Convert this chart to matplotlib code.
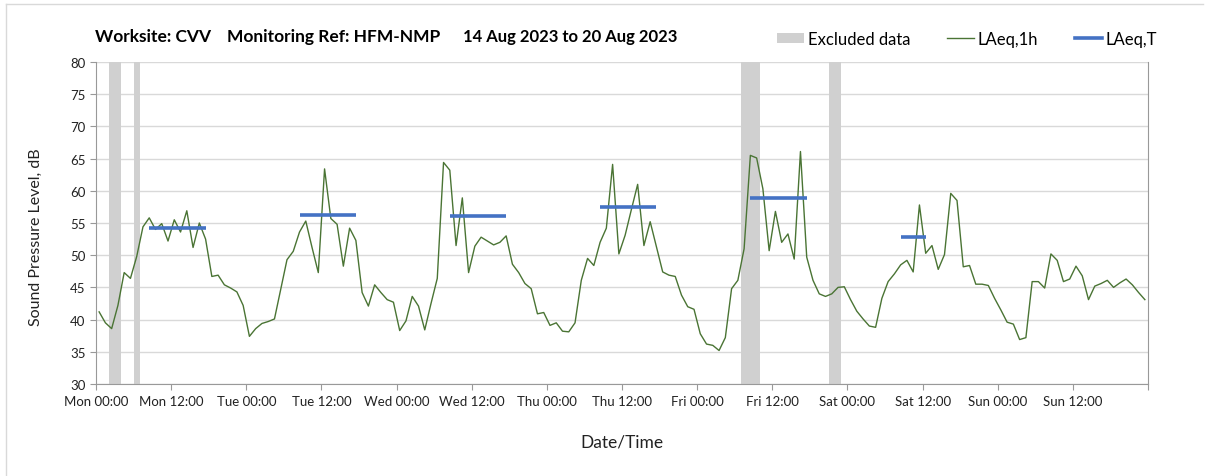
import numpy as np
import matplotlib
matplotlib.use("Agg")
import matplotlib.pyplot as plt
from matplotlib.lines import Line2D
from matplotlib.patches import Patch

plt.rcParams['font.family'] = ['Lato', 'DejaVu Sans']

# hourly LAeq,1h values, Mon 00:00 -> Sun 23:00 (168 hours)
laeq_1h = [
    41.2, 39.5, 38.6, 42.2, 47.3, 46.4, 49.8, 54.4, 55.8, 54.0, 54.9, 52.2,
    55.5, 53.6, 56.9, 51.2, 55.0, 52.5, 46.7, 46.9, 45.4, 44.9, 44.3, 42.2,
    37.4, 38.6, 39.4, 39.7, 40.1, 44.7, 49.3, 50.6, 53.6, 55.3, 51.2, 47.3,
    63.4, 55.7, 54.8, 48.3, 54.2, 52.3, 44.2, 42.1, 45.4, 44.2, 43.1, 42.7,
    38.3, 39.8, 43.6, 42.1, 38.4, 42.5, 46.4, 64.4, 63.2, 51.5, 58.9, 47.3,
    51.4, 52.8, 52.2, 51.6, 52.0, 53.0, 48.6, 47.3, 45.6, 44.8, 40.9, 41.1,
    39.1, 39.5, 38.2, 38.1, 39.5, 46.1, 49.5, 48.4, 52.0, 54.2, 64.1, 50.2,
    53.1, 57.1, 61.0, 51.5, 55.2, 51.3, 47.4, 46.9, 46.7, 43.8, 42.0, 41.6,
    37.8, 36.2, 36.0, 35.2, 37.2, 44.8, 46.1, 51.0, 65.5, 65.1, 60.3, 50.7,
    56.8, 52.0, 53.3, 49.4, 66.1, 49.7, 46.1, 44.0, 43.6, 44.0, 45.0, 45.1,
    43.1, 41.3, 40.1, 39.0, 38.8, 43.3, 45.9, 47.1, 48.5, 49.2, 47.4, 57.8,
    50.3, 51.5, 47.8, 50.1, 59.6, 58.5, 48.2, 48.4, 45.5, 45.5, 45.3, 43.3,
    41.5, 39.6, 39.3, 36.9, 37.2, 45.9, 45.9, 44.9, 50.2, 49.2, 45.9, 46.3,
    48.3, 46.8, 43.1, 45.2, 45.6, 46.1, 45.0, 45.7, 46.3, 45.4, 44.2, 43.1,
]

# LAeq,T daytime periods (first hour, last hour, level)
laeqt_first = [8, 32, 56, 80, 104, 128]
laeqt_last = [17, 41, 65, 89, 113, 132]
laeqt_value = [54.3, 56.25, 56.1, 57.5, 58.9, 52.8]

# excluded data periods (hours from Mon 00:00)
excl_start = [2, 6, 103, 117]
excl_end = [4, 7, 106, 119]

days = ['Mon', 'Tue', 'Wed', 'Thu', 'Fri', 'Sat', 'Sun']
tick_labels = [f'{d} {t}' for d in days for t in ('00:00', '12:00')]

fig = plt.figure(figsize=(12.08, 4.77), dpi=100)
ax = fig.add_axes([96 / 1208, 1 - 385 / 477, 1052 / 1208, 322 / 477])

hours = np.arange(len(laeq_1h)) + 0.5

for s, e in zip(excl_start, excl_end):
    ax.axvspan(s, e, color='#d0d0d0', lw=0, zorder=1)

ax.plot(hours, laeq_1h, color='#4a7434', lw=1.0, zorder=3)

for s, e, v in zip(laeqt_first, laeqt_last, laeqt_value):
    ax.plot([s + 0.5, e + 0.5], [v, v], color='#4472c4', lw=2.6, zorder=4,
            solid_capstyle='butt')

ax.set_xlim(0, 168)
ax.set_ylim(30, 80)
ax.set_yticks(np.arange(30, 81, 5))
ax.set_xticks(np.arange(0, 169, 12))
ax.set_xticklabels(tick_labels + [''])
ax.set_xticks(np.arange(0, 169, 24), minor=True)

ax.grid(axis='y', color='#d9d9d9', lw=1.0, zorder=0)
ax.grid(axis='x', which='minor', color='#e3e3e3', lw=1.5, zorder=0)
ax.grid(axis='x', which='major', visible=False)
ax.tick_params(axis='x', which='minor', length=0)
ax.tick_params(axis='both', which='major', color='#999999', length=4,
               labelsize=9.5, labelcolor='#222222')
ax.tick_params(axis='x', pad=4)
for side in ['left', 'bottom', 'right']:
    ax.spines[side].set_color('#999999')
ax.spines['top'].set_visible(False)
ax.set_axisbelow(True)

ax.set_ylabel('Sound Pressure Level, dB', fontsize=11.5, color='#222222')
ax.yaxis.set_label_coords(-53 / 1052, 0.46)
ax.set_xlabel('Date/Time', fontsize=12.5, color='#222222')
ax.xaxis.set_label_coords(0.5, -50 / 322)

ty = 1 - 37 / 477
fig.text(95 / 1208, ty, 'Worksite: CVV', fontsize=12.5, fontweight='bold', va='center')
fig.text(227 / 1208, ty, 'Monitoring Ref: HFM-NMP', fontsize=12.5, fontweight='bold', va='center')
fig.text(463 / 1208, ty, '14 Aug 2023 to 20 Aug 2023', fontsize=12, fontweight='bold', va='center')

handles = [Patch(color='#d0d0d0', lw=0),
           Line2D([], [], color='#4a7434', lw=1.0),
           Line2D([], [], color='#4472c4', lw=2.6)]
fig.legend(handles, ['Excluded data', 'LAeq,1h', 'LAeq,T'], ncol=3, frameon=False,
           loc='center right', bbox_to_anchor=(1164 / 1208, 1 - 40 / 477),
           fontsize=12, handlelength=1.6, handleheight=0.6, handletextpad=0.25,
           columnspacing=2.2, borderaxespad=0)

# light frame lines at the left and top of the chart area
fig.add_artist(Line2D([5.5 / 1208, 5.5 / 1208], [0, 1 - 4.5 / 477], color='#d9d9d9', lw=1))
fig.add_artist(Line2D([5.5 / 1208, 1203 / 1208], [1 - 4.5 / 477, 1 - 4.5 / 477], color='#d9d9d9', lw=1))

fig.savefig('out.png', dpi=100)
